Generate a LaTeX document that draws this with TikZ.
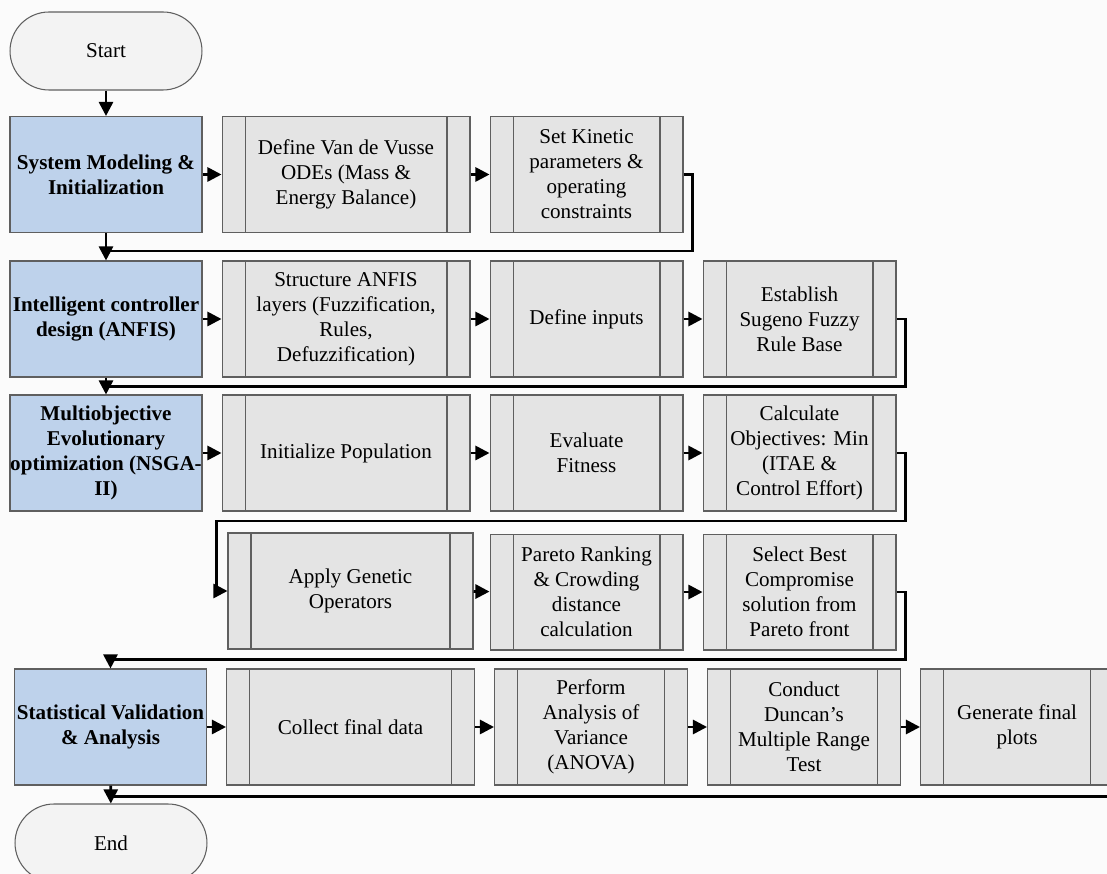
\documentclass[tikz,border=0pt]{standalone}
\usepackage{fontspec}
\setmainfont{Liberation Serif}
\usetikzlibrary{positioning, arrows.meta, calc}
\definecolor{stagefill}{RGB}{190,210,235}
\definecolor{procfill}{RGB}{228,228,228}
\definecolor{termfill}{RGB}{243,243,243}
\definecolor{edgegray}{RGB}{95,95,95}
\definecolor{bgfill}{RGB}{251,251,251}
\tikzset {
    >={Triangle[length=8pt, width=8pt]},
    node distance=0.38cm,
    every node/.style={align=center, inner sep=0pt, font=\fontsize{12pt}{14.2pt}\selectfont}
}

\begin{document}
\begin{tikzpicture}[
  x=0.02cm, y=-0.02cm,
  term/.style={draw=edgegray, line width=0.6pt, fill=termfill, rounded corners=0.78cm,
    minimum width=3.84cm, minimum height=1.56cm},
  stage/.style={draw=edgegray, line width=0.6pt, fill=stagefill, minimum width=3.84cm,
    minimum height=2.32cm, font=\fontsize{12pt}{14.2pt}\selectfont\bfseries},
  proc/.style={draw=edgegray, line width=0.6pt, fill=procfill, minimum width=3.86cm,
    minimum height=2.32cm,
    path picture={
      \draw[edgegray, line width=0.6pt]
        ([xshift=0.46cm]path picture bounding box.north west) -- ([xshift=0.46cm]path picture bounding box.south west)
        ([xshift=-0.46cm]path picture bounding box.north east) -- ([xshift=-0.46cm]path picture bounding box.south east);
    }},
  wide/.style={minimum width=4.96cm},
  link/.style={->, line width=1.5pt},
  back/.style={line width=1.5pt}
  ]

\useasboundingbox (0,0) rectangle (1107,874);
\clip (0,0) rectangle (1107,874);
\fill[bgfill] (0,0) rectangle (1107,874);

% start and stage 1
\node[term] (start) at (106,51) {Start};
\node[stage] (s1) at (106,174.5) {System Modeling \&\\Initialization};
\node[proc, wide, right=of s1] (p1a) {Define Van de Vusse\\ODEs (Mass \&\\Energy Balance)};
\node[proc, right=of p1a] (p1b) {Set Kinetic\\parameters \&\\operating\\constraints};

% stage 2
\node[stage] (s2) at (106,319) {Intelligent controller\\design (ANFIS)};
\node[proc, wide, right=of s2] (p2a) {Structure ANFIS\\layers (Fuzzification,\\Rules,\\Defuzzification)};
\node[proc, right=of p2a] (p2b) {Define inputs};
\node[proc, right=of p2b] (p2c) {Establish\\Sugeno Fuzzy\\Rule Base};

% stage 3
\node[stage] (s3) at (106,453) {Multiobjective\\Evolutionary\\optimization (NSGA-\\II)};
\node[proc, wide, right=of s3] (p3a) {Initialize Population};
\node[proc, right=of p3a] (p3b) {Evaluate\\Fitness};
\node[proc, right=of p3b] (p3c) {Calculate\\Objectives: Min\\(ITAE \&\\Control Effort)};

\node[proc, minimum width=4.9cm] (p4a) at (350.5,591) {Apply Genetic\\Operators};
\node[proc, below=0.44cm of p3b] (p4b) {Pareto Ranking\\\& Crowding\\distance\\calculation};
\node[proc, below=0.44cm of p3c] (p4c) {Select Best\\Compromise\\solution from\\Pareto front};

% stage 4 and end
\node[stage] (s4) at (110.5,727) {Statistical Validation\\\& Analysis};
\node[proc, wide, right=of s4] (p5a) {Collect final data};
\node[proc, right=of p5a] (p5b) {Perform\\Analysis of\\Variance\\(ANOVA)};
\node[proc, right=of p5b] (p5c) {Conduct\\Duncan's\\Multiple Range\\Test};
\node[proc, right=of p5c] (p5d) {Generate final\\plots};
\node[term] (end) at (111,843) {End};

% arrows
\draw[link] (start) -- (s1);
\draw[link] (s1) -- (p1a);
\draw[link] (p1a) -- (p1b);
\draw[link] (s1) -- (s2);
\draw[back] (p1b.east) -- ++(9,0) |- ($(s1.south)+(0,18)$);

\draw[link] (s2) -- (p2a);
\draw[link] (p2a) -- (p2b);
\draw[link] (p2b) -- (p2c);
\draw[link] (s2) -- (s3);
\draw[back] (p2c.east) -- ++(9,0) |- ($(s2.south)+(0,9)$);

\draw[link] (s3) -- (p3a);
\draw[link] (p3a) -- (p3b);
\draw[link] (p3b) -- (p3c);
\draw[link] (p3c.east) -- ++(9,0) |- ($(p4a.west)+(-11,-70)$) |- (p4a.west);

\draw[link] (p4a) -- (p4b);
\draw[link] (p4b) -- (p4c);
\draw[link] (p4c.east) -- ++(9,0) |- ($(s4.north)+(0,-9)$) -- (s4.north);

\draw[link] (s4) -- (p5a);
\draw[link] (p5a) -- (p5b);
\draw[link] (p5b) -- (p5c);
\draw[link] (p5c) -- (p5d);
\draw[link] (s4) -- (end);
\draw[back] (p5d.east) -- ++(9,0) |- ($(s4.south)+(0,11)$);

\end{tikzpicture}
\end{document}
